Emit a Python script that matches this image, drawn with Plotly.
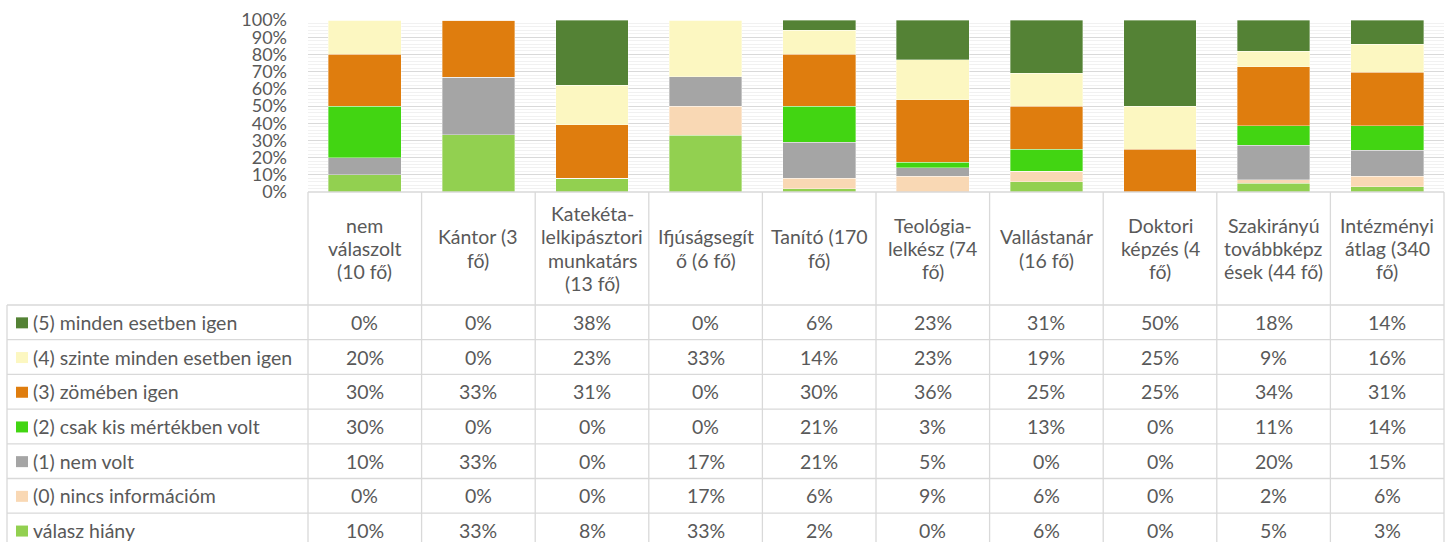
import plotly.graph_objects as go

# ---------------- data ----------------
categories = [
    "nem válaszolt (10 fő)", "Kántor (3 fő)", "Katekéta-lelkipásztori munkatárs (13 fő)",
    "Ifjúságsegítő (6 fő)", "Tanító (170 fő)", "Teológia-lelkész (74 fő)",
    "Vallástanár (16 fő)", "Doktori képzés (4 fő)", "Szakirányú továbbképzések (44 fő)",
    "Intézményi átlag (340 fő)",
]
header_labels = [
    "nem<br>válaszolt<br>(10 fő)", "Kántor (3<br>fő)", "Katekéta-<br>lelkipásztori<br>munkatárs<br>(13 fő)",
    "Ifjúságsegít<br>ő (6 fő)", "Tanító (170<br>fő)", "Teológia-<br>lelkész (74<br>fő)",
    "Vallástanár<br>(16 fő)", "Doktori<br>képzés (4<br>fő)", "Szakirányú<br>továbbképz<br>ések (44 fő)",
    "Intézményi<br>átlag (340<br>fő)",
]
series_names = [
    "(5) minden esetben igen", "(4) szinte minden esetben igen", "(3) zömében igen",
    "(2) csak kis mértékben volt", "(1) nem volt", "(0) nincs információm", "válasz hiány",
]
s5 = [0, 0, 38, 0, 6, 23, 31, 50, 18, 14]
s4 = [20, 0, 23, 33, 14, 23, 19, 25, 9, 16]
s3 = [30, 33, 31, 0, 30, 36, 25, 25, 34, 31]
s2 = [30, 0, 0, 0, 21, 3, 13, 0, 11, 14]
s1 = [10, 33, 0, 17, 21, 5, 0, 0, 20, 15]
s0 = [0, 0, 0, 17, 6, 9, 6, 0, 2, 6]
s_missing = [10, 33, 8, 33, 2, 0, 6, 0, 5, 3]
y_ticks = [0, 10, 20, 30, 40, 50, 60, 70, 80, 90, 100]

colors = ["#548235", "#FCF7C1", "#DF7D0E", "#42D512", "#A5A5A5", "#F9D8B4", "#92D050"]
series_values = [s5, s4, s3, s2, s1, s0, s_missing]

# ---------------- layout geometry (pixels) ----------------
W, H = 1456, 542
L, R, T, B = 308, 1444, 20, 192
FONT = "Lato"
FS = 19.5
TXT = "#595959"
GRID = "#d9d9d9"

def px(x):
    return (x - L) / (R - L)

def py(y):
    return (B - y) / (B - T)

fig = go.Figure()
# stack bottom to top: missing, (0), (1), ..., (5)
for name, vals, col in reversed(list(zip(series_names, series_values, colors))):
    fig.add_trace(go.Bar(
        x=list(range(len(categories))), y=vals, name=name,
        marker=dict(color=col, line=dict(color="rgba(255,255,255,0.6)", width=0.6)),
        hovertext=categories,
    ))

fig.update_layout(
    width=W, height=H,
    margin=dict(l=L, r=W - R, t=T, b=H - B, autoexpand=False),
    barmode="stack", barnorm="percent", bargap=0.36,
    showlegend=False,
    paper_bgcolor="white", plot_bgcolor="white",
    font=dict(family=FONT, color=TXT, size=FS),
)
fig.update_xaxes(range=[-0.5, len(categories) - 0.5], showticklabels=False,
                 showgrid=False, zeroline=False, showline=False, ticks="")
fig.update_yaxes(range=[0, 100], tickvals=y_ticks, ticktext=[f"{v}%" for v in y_ticks],
                 showgrid=True, gridcolor=GRID, gridwidth=1, zeroline=False,
                 tickfont=dict(size=18, color=TXT, family=FONT), ticks="",
                 ticklabelstandoff=20,
                 minor=dict(dtick=2, showgrid=True, gridcolor="#f1f1f1", gridwidth=1.2))

shapes = []
annotations = []

def hline(y, x0, x1):
    shapes.append(dict(type="line", xref="paper", yref="paper", x0=px(x0), x1=px(x1),
                       y0=py(y), y1=py(y), line=dict(color=GRID, width=1.3), layer="above"))

def vline(x, y0, y1):
    shapes.append(dict(type="line", xref="paper", yref="paper", x0=px(x), x1=px(x),
                       y0=py(y0), y1=py(y1), line=dict(color=GRID, width=1.3), layer="above"))

ncol = len(categories)
colw = (R - L) / ncol
header_bottom = 305
row_h = 34.7
nrow = len(series_names)
line_gap = 23.3

# table grid
hline(B, L, R)
hline(header_bottom, 7, R)
for r in range(1, nrow + 1):
    hline(header_bottom + r * row_h, 7, R)
for c in range(ncol + 1):
    vline(L + c * colw, B, H + 5)
vline(7, header_bottom, H + 5)

# headers (each wrapped line placed separately)
hc = (B + header_bottom) / 2
for c, lab in enumerate(header_labels):
    lines = lab.split("<br>")
    n = len(lines)
    for i, ln in enumerate(lines):
        yl = hc + (i - (n - 1) / 2) * line_gap
        annotations.append(dict(xref="paper", yref="paper", x=px(L + (c + 0.5) * colw),
                                y=py(yl), text=ln, showarrow=False,
                                xanchor="center", yanchor="middle", align="center",
                                font=dict(family=FONT, size=FS, color=TXT)))

# rows
for r, (name, vals, col) in enumerate(zip(series_names, series_values, colors)):
    yc = header_bottom + (r + 0.5) * row_h
    shapes.append(dict(type="rect", xref="paper", yref="paper",
                       x0=px(16), x1=px(28), y0=py(yc - 5), y1=py(yc + 6),
                       fillcolor=col, line=dict(width=0), layer="above"))
    annotations.append(dict(xref="paper", yref="paper", x=px(31), y=py(yc), text=name,
                            showarrow=False, xanchor="left", yanchor="middle",
                            font=dict(family=FONT, size=FS, color=TXT)))
    for c, v in enumerate(vals):
        annotations.append(dict(xref="paper", yref="paper", x=px(L + (c + 0.5) * colw),
                                y=py(yc), text=f"{v}%", showarrow=False,
                                xanchor="center", yanchor="middle",
                                font=dict(family=FONT, size=FS, color=TXT)))

fig.update_layout(shapes=shapes, annotations=annotations)
fig.write_html("out.html", config={"displayModeBar": False},
               post_script="document.body.style.margin='0';")
